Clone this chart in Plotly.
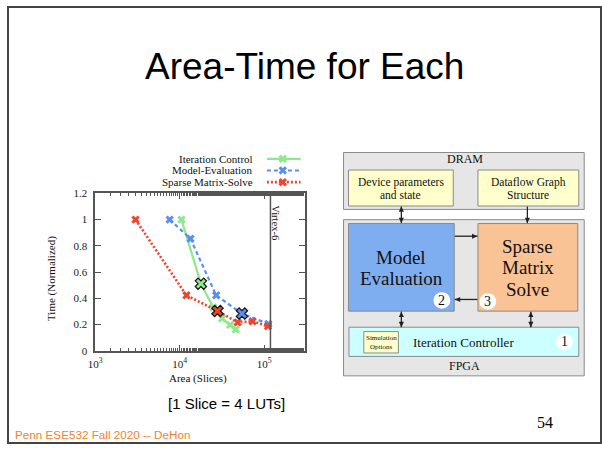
import plotly.graph_objects as go

W, H = 602, 450

# ---- data: normalized time vs. area (slices) for each accelerator component ----
ic_area = [10500, 17800, 25000, 31800, 39500, 46000]
ic_time = [1.0, 0.512, 0.33, 0.247, 0.197, 0.163]
ic_pick = 1

me_area = [7600, 13400, 27000, 54500, 112000]
me_time = [1.0, 0.855, 0.423, 0.284, 0.205]
me_pick = 3

sm_area = [3000, 12000, 28000, 48500, 72800, 111000]
sm_time = [1.0, 0.423, 0.304, 0.217, 0.225, 0.188]
sm_pick = 2

series_names = ["Iteration Control", "Model-Evaluation", "Sparse Matrix-Solve"]
virtex6_slices = 118560

x_tickvals = [1e3, 1e4, 1e5]
x_ticktext = ["10<sup>3</sup>", "10<sup>4</sup>", "10<sup>5</sup>"]

GREEN, BLUE, RED = "#8ee88e", "#5a8ff0", "#f0442e"
SERIF = "Liberation Serif, Times New Roman, serif"
SANS = "Liberation Sans, Arial, sans-serif"
AXC = "#555555"

fig = go.Figure()

series = [
    (ic_area, ic_time, ic_pick, GREEN, "solid", 2.2),
    (me_area, me_time, me_pick, BLUE, "4px,3px", 2.2),
    (sm_area, sm_time, sm_pick, RED, "2px,2px", 2.6),
]
for (xs, ys, pick, col, dash, lw), name in zip(series, series_names):
    fig.add_trace(go.Scatter(
        x=xs, y=ys, mode="lines+markers", name=name, showlegend=False,
        line=dict(color=col, dash=dash, width=lw),
        marker=dict(symbol="x", size=7.5, color=col, line=dict(width=0)),
        xaxis="x", yaxis="y"))
for (xs, ys, pick, col, dash, lw) in series:
    fig.add_trace(go.Scatter(
        x=[xs[pick]], y=[ys[pick]], mode="markers", showlegend=False,
        marker=dict(symbol="x", size=10, color=col, line=dict(width=1.2, color="#111111")),
        xaxis="x", yaxis="y"))

# Virtex-6 capacity line
fig.add_trace(go.Scatter(x=[virtex6_slices, virtex6_slices], y=[0, 1.2], mode="lines",
                         line=dict(color=AXC, width=1.5), showlegend=False,
                         xaxis="x", yaxis="y"))

# ---- legend samples drawn in pixel space (overlay axes x2/y2) ----
leg_y = [157, 169, 181]
for (xs, ys, pick, col, dash, lw), name, ly in zip(series, series_names, leg_y):
    fig.add_trace(go.Scatter(x=[263, 297], y=[ly, ly], mode="lines", showlegend=False,
                             line=dict(color=col, dash=dash, width=lw),
                             xaxis="x2", yaxis="y2"))
    fig.add_trace(go.Scatter(x=[279], y=[ly], mode="markers", showlegend=False,
                             marker=dict(symbol="x", size=7.5, color=col, line=dict(width=0)),
                             xaxis="x2", yaxis="y2"))

ann = []
shapes = []


def text(x, y, s, size, family=SERIF, color="#111111", xanchor="center", angle=0):
    ann.append(dict(x=x, y=y, xref="x2", yref="y2", text=s, showarrow=False,
                    xanchor=xanchor, yanchor="middle", textangle=angle,
                    font=dict(family=family, size=size, color=color)))


def rect(x0, y0, x1, y1, fill, line="#8a8a8a", lw=1):
    shapes.append(dict(type="rect", xref="x2", yref="y2", x0=x0, y0=y0, x1=x1, y1=y1,
                       fillcolor=fill, line=dict(color=line, width=lw), layer="below"))


def head(xt, yt, dx, dy, L=5.5, hw=2.6):
    # filled triangular arrow head with its tip at (xt, yt), pointing along (dx, dy)
    px, py = -dy, dx
    bx, by = xt - dx * L, yt - dy * L
    path = (f"M {xt},{yt} L {bx + px * hw},{by + py * hw} "
            f"L {bx - px * hw},{by - py * hw} Z")
    shapes.append(dict(type="path", xref="x2", yref="y2", path=path,
                       fillcolor="#222222", line=dict(width=0)))


def arrow(x0, y0, x1, y1, both=False):
    shapes.append(dict(type="line", xref="x2", yref="y2", x0=x0, y0=y0, x1=x1, y1=y1,
                       line=dict(color="#222222", width=1.3)))
    n = ((x1 - x0) ** 2 + (y1 - y0) ** 2) ** 0.5
    dx, dy = (x1 - x0) / n, (y1 - y0) / n
    head(x1, y1, dx, dy)
    if both:
        head(x0, y0, -dx, -dy)


for name, ly in zip(series_names, leg_y):
    text(251, ly, name, 11, xanchor="right")

text(272, 223, "Virtex-6", 10.5, angle=90)
text(45, 280, "Time (Normalized)", 11, angle=-90)
text(193, 383, "Area (Slices)", 11)

# ---- slide text ----
text(301, 62, "Area-Time for Each", 37, family=SANS, color="#000000")
text(222, 408, "[1 Slice = 4 LUTs]", 15, family=SANS, color="#000000")
text(544, 428, "54", 16, color="#000000")
text(6, 440, "Penn ESE532 Fall 2020 -- DeHon", 11.7, family=SANS, color="#f5822a", xanchor="left")

# ---- architecture block diagram ----
rect(340.5, 150.5, 584, 209, "#e6e6e6")
text(463, 157, "DRAM", 12)
rect(345.5, 168.5, 451.5, 205.5, "#ffffcc")
text(398.5, 181, "Device parameters", 11.5)
text(398.5, 194, "and state", 11.5)
rect(476.5, 168.5, 578.5, 205.5, "#ffffcc")
text(527.5, 181, "Dataflow Graph", 11.5)
text(527.5, 194, "Structure", 11.5)

rect(340.5, 219.5, 584, 380, "#e6e6e6")
text(463, 370, "FPGA", 12)
rect(345.5, 223.5, 452.5, 313.5, "#7eaef0")
text(399, 258, "Model", 19)
text(399, 280, "Evaluation", 19)
rect(476.5, 223.5, 577.5, 313.5, "#fac396")
text(527, 247, "Sparse", 19)
text(527, 269, "Matrix", 19)
text(527, 291, "Solve", 19)
rect(346, 330, 578.5, 360, "#ccffff")
text(462, 345.5, "Iteration Controller", 13)
rect(361, 334.5, 396, 356.5, "#ffffcc")
text(378.5, 341, "Simulation", 7)
text(378.5, 350, "Options", 7)

for cx, cy, lab in [(440, 302.5, "2"), (486.5, 303.5, "3"), (564, 345, "1")]:
    shapes.append(dict(type="circle", xref="x2", yref="y2", x0=cx - 8.5, x1=cx + 8.5,
                       y0=cy - 8.5, y1=cy + 8.5, fillcolor="#ffffff",
                       line=dict(width=0), layer="below"))
    text(cx, cy, lab, 14)

arrow(399, 206, 399, 223, both=True)
arrow(526.5, 206, 526.5, 223)
arrow(453, 236.5, 476, 236.5)
arrow(476, 301.5, 453, 301.5)
arrow(399, 314, 399, 330, both=True)
arrow(530, 314, 530, 330, both=True)

# slide border
shapes.append(dict(type="rect", xref="x2", yref="y2", x0=1, y0=1, x1=601, y1=449,
                   line=dict(color="#444444", width=2), fillcolor="rgba(0,0,0,0)"))

tickfont = dict(family=SERIF, size=11, color="#222222")
fig.update_layout(
    width=W, height=H, margin=dict(l=0, r=0, t=0, b=0),
    paper_bgcolor="white", plot_bgcolor="rgba(0,0,0,0)",
    showlegend=False,
    xaxis=dict(type="log", range=[3, 5.477], domain=[89.3 / W, 301 / W], anchor="y",
               tickvals=x_tickvals, ticktext=x_ticktext, ticks="inside", ticklen=6,
               tickcolor=AXC, showline=True, linecolor=AXC, linewidth=1.5, mirror="ticks",
               showgrid=False, zeroline=False, tickfont=tickfont, ticklabelstandoff=2,
               minor=dict(ticks="inside", ticklen=3, tickcolor=AXC, showgrid=False)),
    yaxis=dict(range=[0, 1.2], dtick=0.2, domain=[1 - 354.3 / H, 1 - 192.5 / H], anchor="x",
               ticks="inside", ticklen=6, tickcolor=AXC, showline=True, linecolor=AXC,
               linewidth=1.5, mirror="ticks", showgrid=False, zeroline=False,
               tickfont=tickfont, ticklabelstandoff=4),
    xaxis2=dict(range=[0, W], domain=[0, 1], anchor="y2", visible=False, fixedrange=True),
    yaxis2=dict(range=[H, 0], domain=[0, 1], anchor="x2", visible=False, fixedrange=True),
    annotations=ann, shapes=shapes,
)

fig.write_html("out.html")
